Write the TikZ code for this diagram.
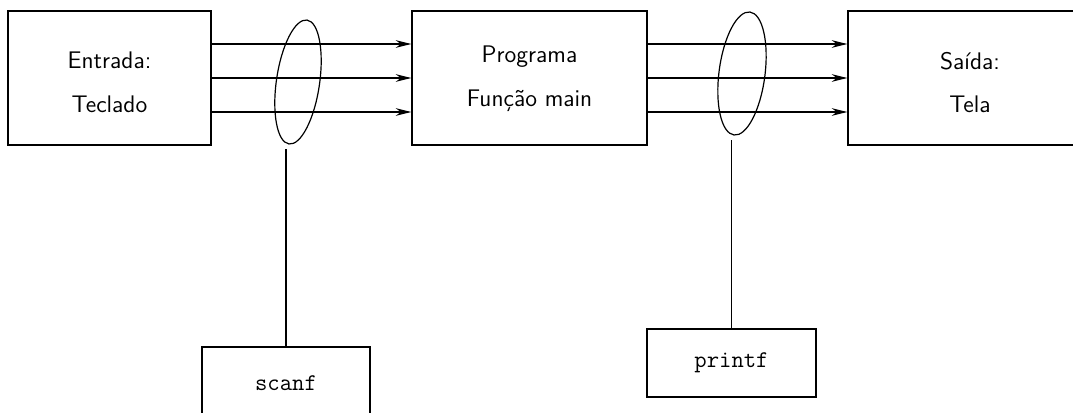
\documentclass[tikz,border=0pt]{standalone}
\usetikzlibrary{arrows.meta,shapes.geometric}
\begin{document}
\begin{tikzpicture}[x=0.5pt,y=-0.5pt,
  block/.style={draw,line width=0.65pt,inner sep=0pt,minimum height=67pt},
  txt/.style={font=\sffamily\fontsize{12}{14}\selectfont,anchor=base,inner sep=0pt},
  code/.style={font=\ttfamily\fontsize{12}{14}\selectfont,inner sep=0pt},
  flow/.style={line width=0.6pt,-{Stealth[length=7.8pt,width=3.8pt]}},
  group/.style={draw,ellipse,line width=0.6pt,inner sep=0pt},
  tie/.style={line width=0.6pt}]
\clip (0,0) rectangle (1073,413);
\useasboundingbox (0,0) rectangle (1073,413);

% main blocks
\node[block,minimum width=101.5pt] (in)   at (109.5,78) {};
\node[block,minimum width=117.5pt] (prog) at (529.5,78) {};
\node[block,minimum width=122pt]   (out)  at (970,78)   {};

\node[txt] (inA)   at (109.5,68)  {Entrada:};
\node[txt] (inB)   at (109.5,112) {Teclado};
\node[txt] (progA) at (529.5,62)  {Programa};
\node[txt] (progB) at (529.5,106) {Função main};
\node[txt] (outA)  at (970,69)    {Saída:};
\node[txt] (outB)  at (970,112)   {Tela};

% data flows between blocks
\foreach \d in {-17pt,0pt,17pt}{
  \draw[flow] ([yshift=\d]in.east) -- ([yshift=\d]prog.west);
  \draw[flow] ([yshift=\d]prog.east) -- ([yshift=\d]out.west);
}

% bundles of flows
\node[group,rotate=-8.3,minimum width=21.6pt,minimum height=62.6pt] (g1) at (298,82) {};
\node[group,rotate=-7.4,minimum width=23pt,minimum height=62pt]   (g2) at (742,73.5) {};

% library functions
\node[draw,line width=0.65pt,minimum width=84pt,minimum height=36pt,code] (scanf)  at (286,383)   {scanf};
\node[draw,line width=0.65pt,minimum width=84.5pt,minimum height=34pt,code] (printf) at (731.5,363) {printf};

\coordinate (t1) at (286,149);
\coordinate (t2) at (731.5,140);
\draw[tie] (scanf.north) -- (t1);
\draw[tie] (printf.north) -- (t2);
\end{tikzpicture}
\end{document}
